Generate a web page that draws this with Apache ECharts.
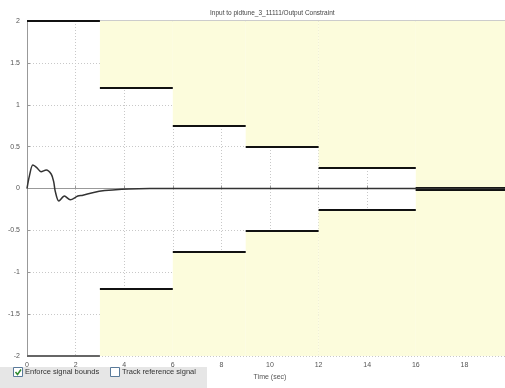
<!DOCTYPE html>
<html><head><meta charset="utf-8">
<script src="https://cdn.jsdelivr.net/npm/echarts@6/dist/echarts.min.js"></script>
<style>html,body{margin:0;padding:0;background:#fff}#c{width:505px;height:388px}</style>
</head><body><div id="c"></div>
<script>
// Data
var title = 'Input to pidtune_3_11111/Output Constraint';
var xTicks = [0, 2, 4, 6, 8, 10, 12, 14, 16, 18, 20];
var yTicks = [-2, -1.5, -1, -0.5, 0, 0.5, 1, 1.5, 2];
var segEdges = [0, 3, 6, 9, 12, 16, 20];
var upperBound = [2, 1.2, 0.75, 0.5, 0.25, 0];
var lowerBound = [-2, -1.2, -0.75, -0.5, -0.25, 0];
var signalX = [0, 0.1, 0.24, 0.4, 0.58, 0.79, 1.0, 1.1, 1.16, 1.31, 1.54, 1.78, 2.09, 2.3, 2.7, 3.2, 3.9, 4.6, 5.5, 20];
var signalY = [0, 0.15, 0.28, 0.25, 0.2, 0.22, 0.17, 0.08, -0.03, -0.15, -0.09, -0.135, -0.09, -0.08, -0.05, -0.025, -0.008, -0.002, 0, 0];

var chart = echarts.init(document.getElementById('c'));
var yMin = yTicks[0], yMax = yTicks[yTicks.length - 1];
var areas = [], lines = [];
for (var i = 0; i < upperBound.length; i++) {
  var x0 = segEdges[i], x1 = segEdges[i + 1];
  if (upperBound[i] < yMax) areas.push([{xAxis: x0, yAxis: upperBound[i]}, {xAxis: x1, yAxis: yMax}]);
  if (lowerBound[i] > yMin) areas.push([{xAxis: x0, yAxis: yMin}, {xAxis: x1, yAxis: lowerBound[i]}]);
  var w = upperBound[i] === lowerBound[i] ? 4 : 2;
  lines.push([{coord: [x0, upperBound[i]], lineStyle: {width: w}}, {coord: [x1, upperBound[i]]}]);
  if (lowerBound[i] > yMin) lines.push([{coord: [x0, lowerBound[i]], lineStyle: {width: w}}, {coord: [x1, lowerBound[i]]}]);
  else lines.push([{coord: [x0, lowerBound[i]], lineStyle: {width: 2, color: '#666'}}, {coord: [x1, lowerBound[i]]}]);
}
var sig = signalX.map(function (x, i) { return [x, signalY[i]]; });

chart.setOption({
  animation: false,
  backgroundColor: '#fff',
  grid: {left: 27, right: -8, top: 21, bottom: 32, outerBoundsMode: 'none', containLabel: false},
  xAxis: {
    type: 'value', min: xTicks[0], max: xTicks[xTicks.length - 1], interval: 2,
    name: 'Time (sec)', nameLocation: 'middle', nameGap: 18,
    nameTextStyle: {fontSize: 7, color: '#555', fontFamily: 'Liberation Sans'},
    axisLine: {lineStyle: {color: '#999', width: 1}},
    axisTick: {inside: true, length: 3, lineStyle: {color: '#999'}},
    axisLabel: {fontSize: 7, color: '#555', margin: 6, fontFamily: 'Liberation Sans'},
    splitLine: {show: true, lineStyle: {color: '#c8c8c8', type: [1, 2], width: 1}}
  },
  yAxis: {
    type: 'value', min: yMin, max: yMax, interval: 0.5,
    axisLine: {show: true, lineStyle: {color: '#999', width: 1}},
    axisTick: {show: true, inside: true, length: 3, lineStyle: {color: '#999'}},
    axisLabel: {fontSize: 7, color: '#555', margin: 7, fontFamily: 'Liberation Sans'},
    splitLine: {show: true, lineStyle: {color: '#c8c8c8', type: [1, 2], width: 1}}
  },
  series: [
    {
      type: 'line', data: [], silent: true,
      markArea: {silent: true, itemStyle: {color: '#fcfcdc'}, data: areas},
      markLine: {silent: true, symbol: 'none', label: {show: false},
        lineStyle: {color: '#111', type: 'solid', width: 2}, data: lines}
    },
    {
      type: 'line', data: sig, smooth: 0.3, showSymbol: false, z: 5,
      lineStyle: {color: '#333', width: 1.5}
    }
  ],
  graphic: [
    {type: 'text', left: 210, top: 10, style: {text: title, fontSize: 6.5, fill: '#444', fontFamily: 'Liberation Sans'}},
    {type: 'line', shape: {x1: 27, y1: 21, x2: 505, y2: 21}, style: {stroke: '#999', lineWidth: 1}, z: 1},
    {type: 'rect', shape: {x: 0, y: 367, width: 207, height: 21}, style: {fill: '#e6e6e6'}, z: 10},
    {type: 'rect', shape: {x: 13.5, y: 367.5, width: 9, height: 9}, style: {fill: '#fff', stroke: '#5a7a9a', lineWidth: 1}, z: 11},
    {type: 'polyline', shape: {points: [[15.5, 372], [17.5, 374.5], [21, 369.5]]}, style: {stroke: '#2e8b2e', lineWidth: 1.5, fill: null}, z: 12},
    {type: 'text', left: 25, top: 368, style: {text: 'Enforce signal bounds', fontSize: 7.5, fill: '#333', fontFamily: 'Liberation Sans'}, z: 11},
    {type: 'rect', shape: {x: 110.5, y: 367.5, width: 9, height: 9}, style: {fill: '#fff', stroke: '#5a7a9a', lineWidth: 1}, z: 11},
    {type: 'text', left: 122, top: 368, style: {text: 'Track reference signal', fontSize: 7.5, fill: '#333', fontFamily: 'Liberation Sans'}, z: 11}
  ]
});
</script>
</body></html>
